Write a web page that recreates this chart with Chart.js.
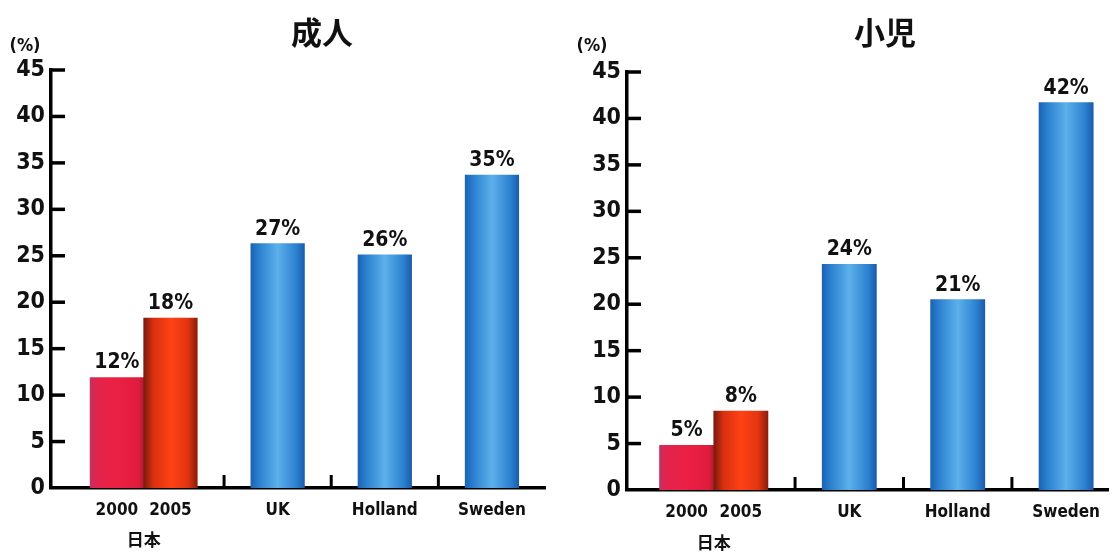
<!DOCTYPE html>
<html>
<head>
<meta charset="utf-8">
<script src="https://cdn.jsdelivr.net/npm/chart.js@4.4.1/dist/chart.umd.min.js"></script>
<style>
html,body{margin:0;padding:0;background:#fff;}
#wrap{position:relative;width:1112px;height:552px;overflow:hidden;}
canvas{position:absolute;top:0;}
</style>
</head>
<body>
<div id="wrap">
  <canvas id="c1" width="556" height="552" style="left:0"></canvas>
  <canvas id="c2" width="556" height="552" style="left:556px"></canvas>
</div>
<script>
// ---------- data ----------
const categories = ['2000', '2005', 'UK', 'Holland', 'Sweden'];
const groupLabel = '日本';
const unitLabel = '(%)';
const yTickValues = [0, 5, 10, 15, 20, 25, 30, 35, 40, 45];

const adultTitle = '成人';
const adultValues = [11.9, 18.3, 26.3, 25.1, 33.7];
const adultLabels = ['12%', '18%', '27%', '26%', '35%'];

const childTitle = '小児';
const childValues = [4.8, 8.5, 24.3, 20.5, 41.7];
const childLabels = ['5%', '8%', '24%', '21%', '42%'];

// slot layout of the categories along the x axis (gaps hold the divider ticks)
const slots = [0, 1, 3, 5, 7];
const dividerSlots = [2, 4, 6];
const groupSlot = 0.5;

// ---------- styles ----------
const COND = "'DejaVu Sans Condensed', 'Liberation Sans Narrow', 'Liberation Sans', sans-serif";
const CJK = "'Noto Sans CJK JP', 'Noto Sans CJK SC', sans-serif";

const fills = [
  [[0, '#c23062'], [0.12, '#e2244c'], [0.5, '#ec2044'], [0.9, '#e01c3c'], [1, '#b81a34']],
  [[0, '#7a1a0e'], [0.18, '#d8300f'], [0.5, '#ff4214'], [0.82, '#e33410'], [1, '#8a1e0c']],
  [[0, '#1b62b4'], [0.15, '#2a80cf'], [0.5, '#5cb0ea'], [0.85, '#2b80d0'], [1, '#1a5caa']]
];

function barFill(c) {
  const chart = c.chart;
  const i = c.dataIndex;
  if (i === undefined || !chart.chartArea || !chart.scales.x) return '#3a8fd8';
  const xs = chart.scales.x;
  const px = xs.getPixelForValue(slots[i]);
  const half = (xs.getPixelForValue(1) - xs.getPixelForValue(0)) / 2;
  const g = chart.ctx.createLinearGradient(px - half, 0, px + half, 0);
  fills[i < 2 ? i : 2].forEach(([o, col]) => g.addColorStop(o, col));
  return g;
}

const decor = {
  id: 'decor',
  afterDraw(chart, args, o) {
    const {ctx, chartArea: a, scales: {x, y}} = chart;
    ctx.save();
    ctx.strokeStyle = '#000';
    ctx.lineCap = 'butt';
    // inward ticks on the y axis
    ctx.lineWidth = 3.5;
    y.ticks.forEach(t => {
      if (t.value === 0) return;
      const py = y.getPixelForValue(t.value);
      ctx.beginPath(); ctx.moveTo(a.left, py); ctx.lineTo(a.left + 14, py); ctx.stroke();
    });
    // divider ticks on the x axis
    ctx.lineWidth = 3;
    dividerSlots.forEach(s => {
      const px = x.getPixelForValue(s);
      ctx.beginPath(); ctx.moveTo(px, a.bottom); ctx.lineTo(px, a.bottom - 13); ctx.stroke();
    });
    // value labels
    ctx.fillStyle = '#111';
    ctx.textAlign = 'center';
    ctx.textBaseline = 'bottom';
    ctx.font = 'bold 21px ' + COND;
    chart.getDatasetMeta(0).data.forEach((el, i) => {
      ctx.fillText(o.labels[i], el.x, el.y - 4);
    });
    // group label under 2000/2005
    ctx.textBaseline = 'middle';
    ctx.font = 'bold 17px ' + CJK;
    ctx.fillText(groupLabel, x.getPixelForValue(groupSlot), o.groupY);
    // unit label
    ctx.font = 'bold 18px ' + COND;
    ctx.fillText(unitLabel, o.unitX, o.unitY);
    // title
    ctx.font = 'bold 31px ' + CJK;
    ctx.fillText(o.title, o.titleX, o.titleY);
    ctx.restore();
  }
};

function makeChart(id, cfg) {
  return new Chart(document.getElementById(id), {
    type: 'bar',
    data: {
      datasets: [{
        data: categories.map((c, i) => ({x: slots[i], y: cfg.values[i]})),
        backgroundColor: barFill,
        borderWidth: 0,
        barPercentage: 1,
        categoryPercentage: 1
      }]
    },
    options: {
      responsive: false,
      animation: false,
      layout: {padding: {top: cfg.top, right: cfg.right, left: 0, bottom: 0}},
      plugins: {
        legend: {display: false},
        tooltip: {enabled: false},
        decor: cfg.decor
      },
      scales: {
        x: {
          type: 'linear',
          bounds: 'data',
          offset: false,
          min: cfg.xMin,
          max: cfg.xMax,
          grid: {display: false, drawTicks: false, offset: false},
          border: {display: true, width: 3.5, color: '#000'},
          afterBuildTicks: s => { s.ticks = slots.map(v => ({value: v})); },
          afterFit: s => { s.height = cfg.xHeight; },
          ticks: {
            autoSkip: false, maxRotation: 0, minRotation: 0,
            padding: 12, color: '#111',
            font: {family: COND, size: 17, weight: 'bold'},
            callback: v => categories[slots.indexOf(v)]
          }
        },
        y: {
          type: 'linear',
          bounds: 'data',
          min: 0, max: 45,
          grid: {display: false, drawTicks: false},
          border: {display: true, width: 3.5, color: '#000'},
          afterBuildTicks: s => { s.ticks = yTickValues.map(v => ({value: v})); },
          afterFit: s => { s.width = cfg.yWidth; },
          ticks: {
            padding: 6, color: '#111',
            font: {family: COND, size: 23, weight: 'bold'}
          }
        }
      }
    },
    plugins: [decor]
  });
}

makeChart('c1', {
  values: adultValues,
  top: 70, right: 11, xHeight: 64, yWidth: 51,
  xMin: -1.23, xMax: 7.99,
  decor: {labels: adultLabels, title: adultTitle, titleX: 322, titleY: 32, unitX: 25, unitY: 46, groupY: 540}
});

makeChart('c2', {
  values: childValues,
  top: 72, right: 0, xHeight: 62, yWidth: 71,
  xMin: -1.1, xMax: 7.79,
  decor: {labels: childLabels, title: childTitle, titleX: 329, titleY: 32, unitX: 36, unitY: 46, groupY: 543}
});
</script>
</body>
</html>
